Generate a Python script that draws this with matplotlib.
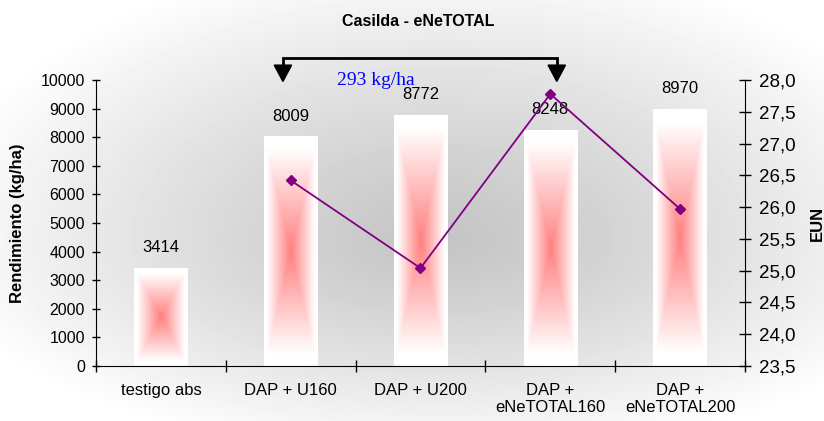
import numpy as np
import matplotlib
matplotlib.use("Agg")
import matplotlib.pyplot as plt

# datos
categorias = ["testigo abs", "DAP + U160", "DAP + U200", "DAP +\neNeTOTAL160", "DAP +\neNeTOTAL200"]
rendimiento = [3414, 8009, 8772, 8248, 8970]
eun = [None, 26.42, 25.04, 27.78, 25.97]
diferencia = "293 kg/ha"

plt.rcParams['font.family'] = ['Liberation Sans', 'DejaVu Sans']

fig = plt.figure(figsize=(8.24, 4.21), dpi=100)

# fondo gris degradado
bg = fig.add_axes([0, 0, 1, 1], zorder=-1)
yy, xx = np.mgrid[0:421, 0:824]
ry = np.where(yy < 240, 290.0, 220.0)
r = np.sqrt(((xx - 440) / 516.0) ** 2 + ((yy - 240) / ry) ** 2)
gris = 0.77 + 0.23 * np.clip(r, 0, 1) ** 1.2
bg.imshow(gris, cmap='gray', vmin=0, vmax=1, aspect='auto', interpolation='bilinear')
bg.axis('off')

ax = fig.add_axes([96 / 824, 1 - 366 / 421, (745 - 96) / 824, (366 - 80) / 421])
ax.set_facecolor('none')

x = np.arange(len(categorias))
ancho = 0.41

# barras con degradado rojo desde el centro
u = np.linspace(-1, 1, 80)
v = np.linspace(-1, 1, 200)
U, V = np.meshgrid(u, v)
t = np.maximum(np.abs(U), np.abs(V))
f = np.clip((0.9 - t) / 0.9, 0, 1)
img = np.ones((200, 80, 3))
img[..., 1] = 1 - 0.5 * f
img[..., 2] = 1 - 0.5 * f
for i, h in enumerate(rendimiento):
    ax.imshow(img, extent=(x[i] - ancho / 2, x[i] + ancho / 2, 0, h), aspect='auto',
              interpolation='bilinear', zorder=2)
    ax.annotate(str(h), (x[i], h), xytext=(0, 15), textcoords='offset points',
                ha='center', va='center', fontsize=12)

ax.set_xlim(-0.5, len(categorias) - 0.5)
ax.set_ylim(0, 10000)
ax.set_yticks(np.arange(0, 10001, 1000))
ax.tick_params(axis='y', direction='inout', length=6, width=1, labelsize=11.5, pad=5)
ax.set_xticks(np.arange(-0.5, len(categorias), 1))
ax.set_xticklabels([])
ax.set_xticks(x, minor=True)
ax.set_xticklabels(categorias, minor=True, fontsize=12)
ax.tick_params(axis='x', which='major', direction='inout', length=8, width=1)
ax.tick_params(axis='x', which='minor', length=0, pad=12)
ax.spines['top'].set_visible(False)
ax.spines['right'].set_visible(False)
ax.set_ylabel("Rendimiento (kg/ha)", fontsize=12, fontweight='bold')
ax.yaxis.set_label_coords(-0.109, 0.5)

# eje secundario EUN
ax2 = ax.twinx()
xe = [x[i] for i in range(len(eun)) if eun[i] is not None]
ye = [e for e in eun if e is not None]
ax2.plot(xe, ye, color='#800080', lw=1.3, marker='D', markersize=5.5, zorder=3)
ax2.set_ylim(23.5, 28.0)
ax2.set_yticks(np.arange(23.5, 28.01, 0.5))
ax2.set_yticklabels([f"{val:.1f}".replace('.', ',') for val in np.arange(23.5, 28.01, 0.5)])
ax2.tick_params(axis='y', direction='inout', length=9, width=1, labelsize=13.5, pad=5.5)
for s in ['top', 'left', 'bottom']:
    ax2.spines[s].set_visible(False)
ax2.set_ylabel("EUN", fontsize=12, fontweight='bold')
ax2.yaxis.set_label_coords(1.1, 0.5)

# corchete con flechas
x0, x1 = 0.94, 3.05
ax.plot([x0, x0, x1, x1], [10450, 10770, 10770, 10450], color='black', lw=2, clip_on=False,
        solid_joinstyle='miter')
for xa in (x0, x1):
    ax.fill([xa - 0.067, xa + 0.067, xa], [10520, 10520, 9950], color='black', clip_on=False)
ax.text(1.657, 9990, diferencia, color='blue', fontsize=14, family='Liberation Serif',
        ha='center', va='center')

fig.suptitle("Casilda - eNeTOTAL", x=418 / 824, y=1 - 21.5 / 421, va='center',
             fontsize=11.5, fontweight='bold')

fig.savefig("out.png", dpi=100)
